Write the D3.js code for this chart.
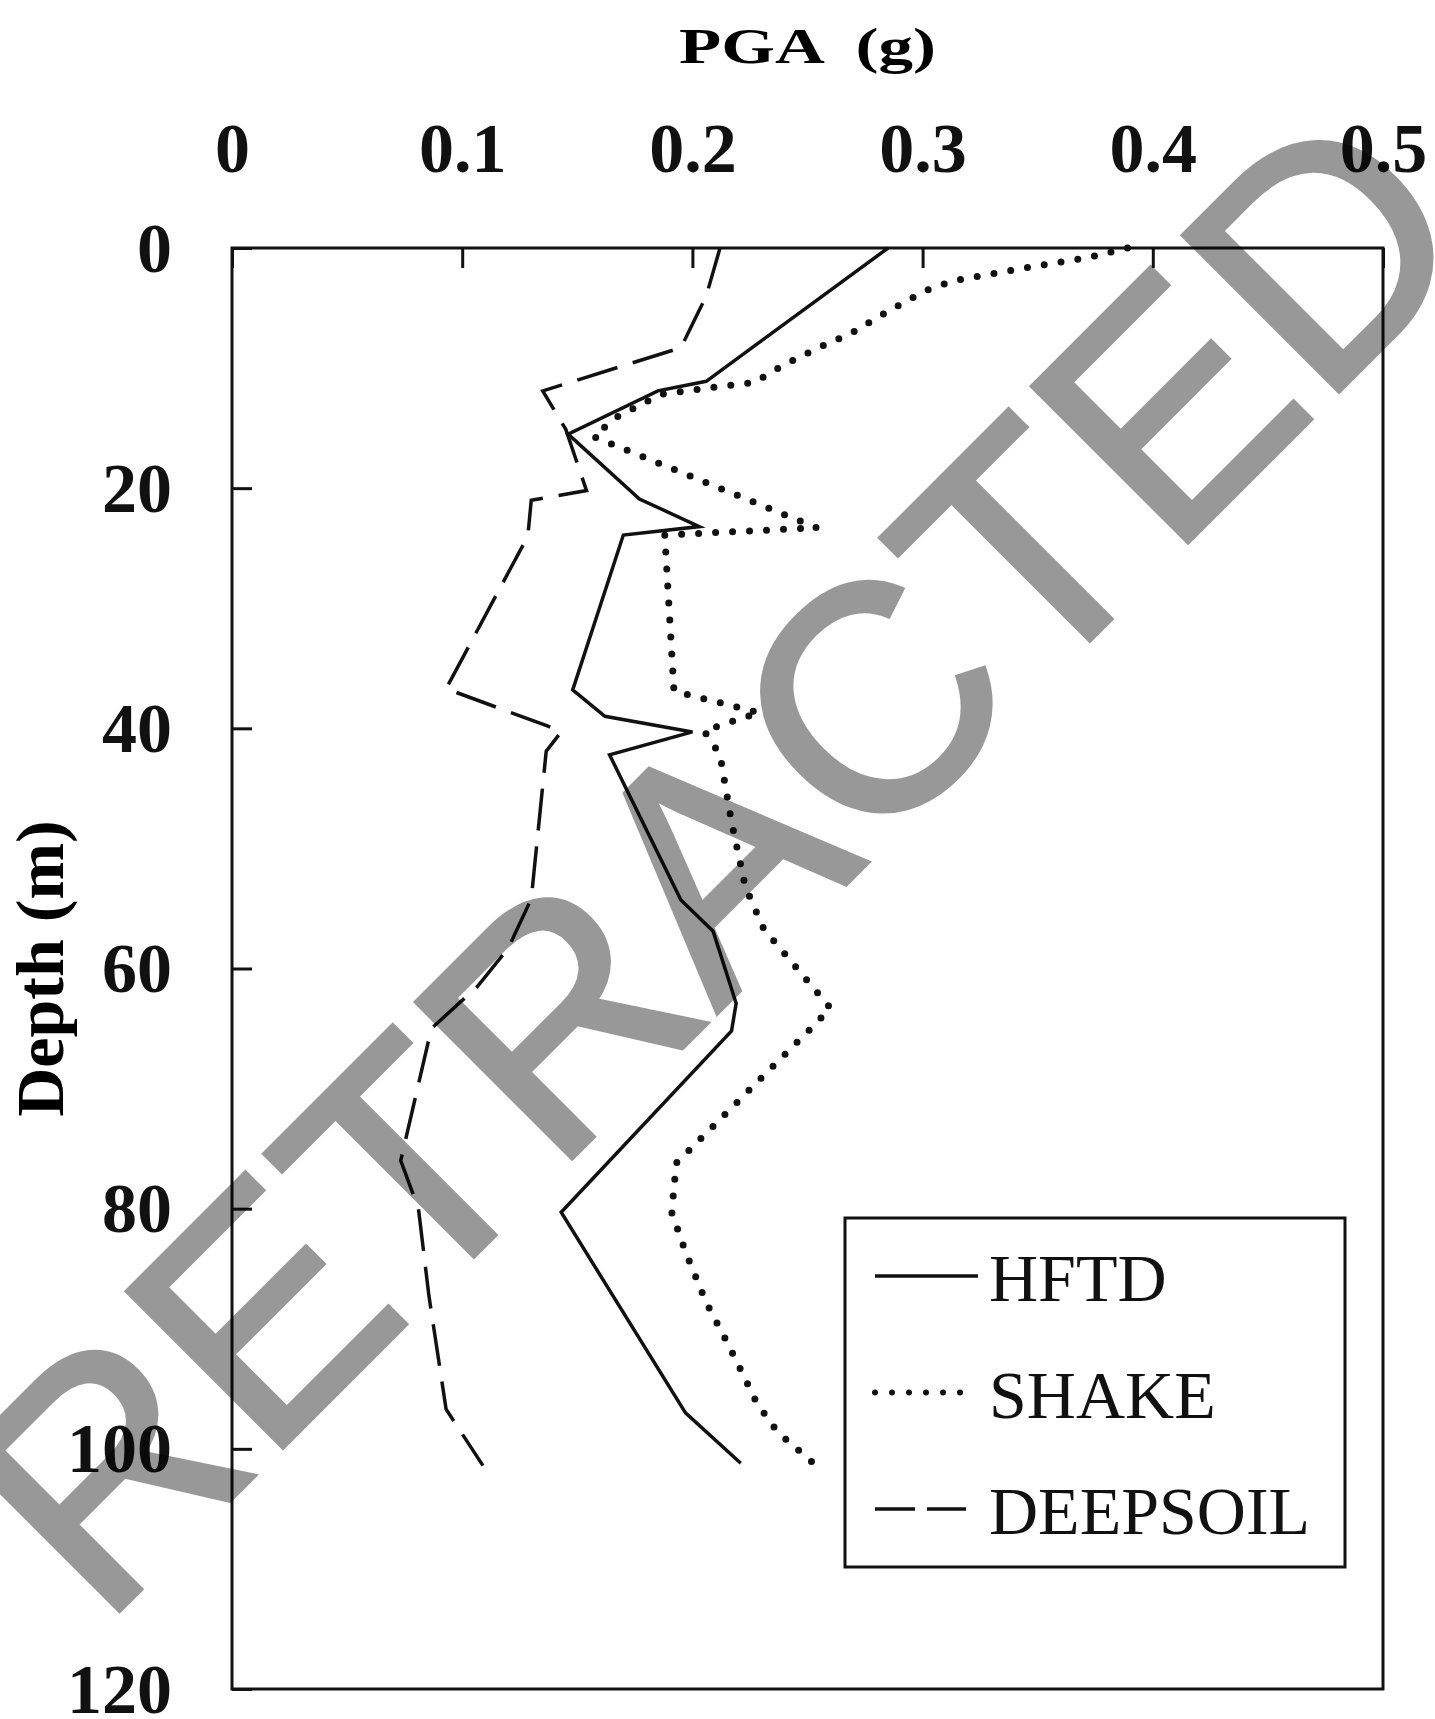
<!DOCTYPE html>
<html lang="en">
<head>
<meta charset="UTF-8">
<title>PGA vs depth</title>
<script src="https://d3js.org/d3.v7.min.js"></script>
<style>
  body { margin: 0; background: #fff; }
</style>
</head>
<body>
<div id="chart"></div>
<script>

// values: depth (m) and PGA (g)
const hftdDepth = [0, 11.1, 11.9, 15.5, 20.9, 23.2, 23.9, 36.8, 39.0, 40.3, 42.2, 54.3, 56.9, 62.9, 65.2, 80.3, 97.0, 101.2];
const hftdPga   = [0.285, 0.206, 0.185, 0.146, 0.177, 0.203, 0.170, 0.148, 0.162, 0.200, 0.164, 0.195, 0.209, 0.219, 0.217, 0.143, 0.197, 0.221];

const shakeDepth = [0, 0.8, 1.7, 2.7, 3.5, 4.3, 5.5, 7.1, 8.2, 9.7, 10.6, 11.2, 11.6, 12.2, 14.1, 15.7, 23.3, 23.9, 36.9, 38.7, 40.2, 42.2, 47.8, 53.2, 56.7, 63.3, 64.7, 76.2, 80.3, 83.6, 87.8, 91.1, 93.8, 96.2, 98.6, 101.1];
const shakePga   = [0.389, 0.372, 0.343, 0.314, 0.302, 0.294, 0.283, 0.269, 0.256, 0.240, 0.232, 0.227, 0.209, 0.186, 0.167, 0.157, 0.254, 0.188, 0.192, 0.229, 0.205, 0.212, 0.217, 0.223, 0.231, 0.260, 0.253, 0.193, 0.191, 0.197, 0.206, 0.215, 0.222, 0.228, 0.237, 0.252];

const deepDepth = [0, 4.0, 8.3, 11.9, 15.1, 20.2, 21.0, 24.0, 36.7, 39.8, 40.3, 41.9, 54.2, 58.3, 61.5, 65.0, 76.0, 80.0, 87.2, 96.7, 101.4];
const deepPga   = [0.212, 0.206, 0.195, 0.135, 0.145, 0.154, 0.130, 0.1285, 0.093, 0.137, 0.143, 0.1365, 0.130, 0.120, 0.1066, 0.0866, 0.0733, 0.081, 0.0855, 0.093, 0.109];

const seriesNames = ["HFTD", "SHAKE", "DEEPSOIL"];
const xTickValues = [0, 0.1, 0.2, 0.3, 0.4, 0.5];
const yTickValues = [0, 20, 40, 60, 80, 100, 120];

const width = 1435, height = 1719;
const margin = {top: 248, right: 52, bottom: 30, left: 232};
const serif = "'Liberation Serif', 'Times New Roman', Times, serif";

const svg = d3.select("#chart")
  .append("svg")
    .attr("width", width)
    .attr("height", height);

const x = d3.scaleLinear()
  .domain([0, 0.5])
  .range([margin.left, width - margin.right]);

const y = d3.scaleLinear()
  .domain([0, 120])
  .range([margin.top, height - margin.bottom]);

// top axis, ticks pointing into the plot
const xAxis = svg.append("g")
  .attr("transform", `translate(0,${margin.top})`)
  .call(d3.axisTop(x).tickValues(xTickValues).tickSize(-20).tickPadding(76).tickFormat(d => String(d)));
xAxis.select(".domain").remove();
xAxis.selectAll("line").attr("stroke", "#111").attr("stroke-width", 3);
xAxis.selectAll("text")
  .attr("font-family", serif).attr("font-size", 70).attr("font-weight", "bold").attr("fill", "#111");

const yAxis = svg.append("g")
  .attr("transform", `translate(${margin.left},0)`)
  .call(d3.axisLeft(y).tickValues(yTickValues).tickSize(-20).tickPadding(60));
yAxis.select(".domain").remove();
yAxis.selectAll("line").attr("stroke", "#111").attr("stroke-width", 3);
yAxis.selectAll("text")
  .attr("dy", "0.33em")
  .attr("font-family", serif).attr("font-size", 70).attr("font-weight", "bold").attr("fill", "#111");

// plot frame
svg.append("rect")
  .attr("x", x(0)).attr("y", y(0))
  .attr("width", x(0.5) - x(0)).attr("height", y(120) - y(0))
  .attr("fill", "none").attr("stroke", "#111").attr("stroke-width", 3);

// titles
svg.append("text")
  .attr("x", (x(0) + x(0.5)) / 2).attr("y", 63)
  .attr("text-anchor", "middle")
  .attr("font-family", serif).attr("font-size", 50).attr("font-weight", "bold")
  .attr("textLength", 257).attr("lengthAdjust", "spacingAndGlyphs")
  .style("white-space", "pre")
  .text("PGA  (g)");

svg.append("text")
  .attr("transform", `translate(63,${(y(0) + y(120)) / 2}) rotate(-90)`)
  .attr("text-anchor", "middle")
  .attr("font-family", serif).attr("font-size", 68).attr("font-weight", "bold")
  .text("Depth (m)");

// series
const styles = {
  HFTD:     {width: 3.5, dash: null,    cap: "butt"},
  SHAKE:    {width: 7,   dash: "0,17",  cap: "round"},
  DEEPSOIL: {width: 3.5, dash: "42,16", cap: "butt"}
};

const series = [
  {name: "HFTD",     values: hftdDepth.map((d, i) => ({depth: d, pga: hftdPga[i]}))},
  {name: "SHAKE",    values: shakeDepth.map((d, i) => ({depth: d, pga: shakePga[i]}))},
  {name: "DEEPSOIL", values: deepDepth.map((d, i) => ({depth: d, pga: deepPga[i]}))}
];

const line = d3.line()
  .x(d => x(d.pga))
  .y(d => y(d.depth));

svg.selectAll(".series")
  .data(series)
  .join("path")
    .attr("class", "series")
    .attr("d", d => line(d.values))
    .attr("fill", "none")
    .attr("stroke", "#111")
    .attr("stroke-width", d => styles[d.name].width)
    .attr("stroke-dasharray", d => styles[d.name].dash)
    .attr("stroke-linecap", d => styles[d.name].cap)
    .attr("stroke-linejoin", "miter");

// legend
const legend = svg.append("g").attr("transform", "translate(845,1218)");
legend.append("rect")
  .attr("width", 500).attr("height", 349)
  .attr("fill", "#fff").attr("stroke", "#111").attr("stroke-width", 3);

const rows = legend.selectAll(".row")
  .data(seriesNames)
  .join("g")
    .attr("class", "row")
    .attr("transform", (d, i) => `translate(0,${58 + i * 116.5})`);

rows.append("line")
  .attr("x1", 30)
  .attr("x2", d => d === "HFTD" ? 133 : (d === "SHAKE" ? 122 : 121))
  .attr("stroke", "#111")
  .attr("stroke-width", d => d === "SHAKE" ? 6 : styles[d].width)
  .attr("stroke-dasharray", d => d === "DEEPSOIL" ? "40,12" : styles[d].dash)
  .attr("stroke-linecap", d => styles[d].cap);

rows.append("text")
  .attr("x", 144).attr("y", 25)
  .attr("font-family", serif).attr("font-size", 68)
  .attr("fill", "#111")
  .text(d => d);

// watermark, semi-transparent so the curves still show through
svg.append("g")
  .attr("opacity", 0.4)
  .append("text")
    .attr("transform", "translate(711,856) rotate(-45)")
    .attr("text-anchor", "middle")
    .attr("dy", "0.36em")
    .attr("font-family", "'Liberation Sans', Arial, sans-serif")
    .attr("font-size", 320)
    .attr("fill", "#000")
    .attr("stroke", "#000").attr("stroke-width", 5).attr("stroke-linejoin", "miter")
    .text("RETRACTED");

</script>
</body>
</html>
